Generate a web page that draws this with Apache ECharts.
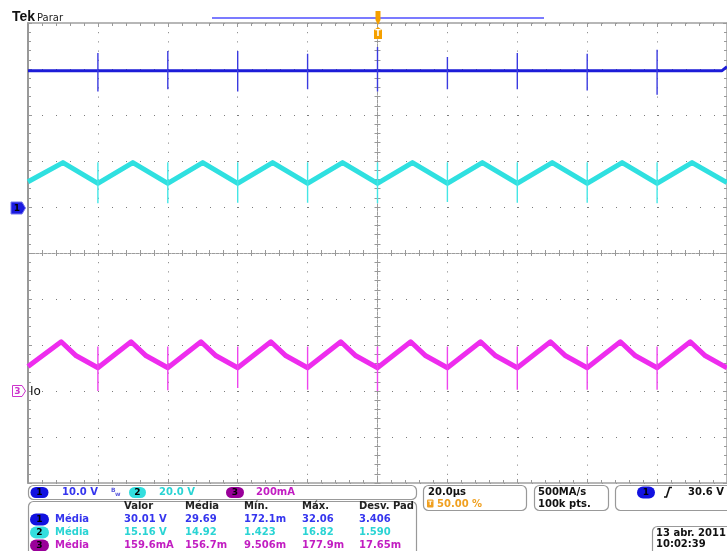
<!DOCTYPE html>
<html><head><meta charset="utf-8">
<script src="https://cdn.jsdelivr.net/npm/echarts@6/dist/echarts.min.js"></script>
<style>html,body{margin:0;padding:0;background:#fff;overflow:hidden}#c{width:727px;height:551px}</style>
</head><body><div id="c"></div>
<script>
// ---- data (time in µs, 20 µs/div) ----
const ch1TimesUs = [-100, 98.5, 100];
const ch1Volts = [29.6, 29.6, 30.5];
const ch2TimesUs = [-100,-90,-80,-70,-60,-50,-40,-30,-20,-10,0,10,20,30,40,50,60,70,80,90,100];
const ch2Volts = [11.0,19.3,10.3,19.3,10.3,19.3,10.3,19.3,10.3,19.3,10.3,19.3,10.3,19.3,10.3,19.3,10.3,19.3,10.3,19.3,10.6];
const ch3TimesUs = [-100,-90.5,-86.2,-80,-70.5,-66.2,-60,-50.5,-46.2,-40,-30.5,-26.2,-20,-10.5,-6.2,0,9.5,13.8,20,29.5,33.8,40,49.5,53.8,60,69.5,73.8,80,89.5,93.8,100];
const ch3mA = [106,214,153,101,214,153,101,214,153,101,214,153,101,214,153,101,214,153,101,214,153,101,214,153,101,214,153,101,214,153,101];
const spikeTimesUs = [-80,-60,-40,-20,0,20,40,60,80];
const ch1SpikeHighV = [33.5,33.9,33.9,33.3,34.8,32.6,33.5,33.3,34.2];
const ch1SpikeLowV = [25.1,25.6,25.1,25.6,25.1,25.6,25.6,25.3,24.4];
const ch2SpikeHighV = [19.5,19.5,19.5,19.5,19.5,19.5,19.5,19.5,19.5];
const ch2SpikeLowV = [1.6,1.6,1.8,1.8,1.6,2.2,1.8,1.8,1.6];
const ch3SpikeHighmA = [193,193,193,193,193,193,193,193,193];
const ch3SpikeLowmA = [0,3,13,5,0,5,5,5,5];
const statHeaders = ['Valor','Média','Mín.','Máx.','Desv. Pad'];
const ch1Stats = ['30.01 V','29.69','172.1m','32.06','3.406'];
const ch2Stats = ['15.16 V','14.92','1.423','16.82','1.590'];
const ch3Stats = ['159.6mA','156.7m','9.506m','177.9m','17.65m'];
const scaleLabels = ['10.0 V','20.0 V','200mA'];
const timebase = '20.0µs', triggerPos = '50.00 %', sampleRate = '500MA/s', recordLen = '100k pts.', trigLevel = '30.6 V';
const dateText = '13 abr. 2011', timeText = '10:02:39';

// ---- helpers ----
const zip = (xs, ys) => xs.map((x, i) => [x, ys[i]]);
function spikes(hi, lo) { const d = []; spikeTimesUs.forEach((t, i) => { d.push([t, hi[i]], [t, lo[i]], [t, null]); }); return d; }

const C1 = '#1c1cd8', C2 = '#2fe0e0', C3 = '#ee2cee';
const T1 = '#3535ee', T2 = '#2ad4d4', T3 = '#c21ec2';
const F = 'bold 10px "DejaVu Sans"';
const gridDot = '#7a7a7a', frame = '#a0a0a0';

const G = [];
function box(x, y, w, h) { G.push({type:'rect', shape:{x, y, width:w, height:h, r:5}, style:{fill:'#fff', stroke:'#999', lineWidth:1.2}, z:10}); }
function txt(x, y, s, color, font, align) { G.push({type:'text', x, y, style:{text:s, fill:color, font:font||F, align:align||'left', verticalAlign:'middle'}, z:12}); }
function pill(x, y, w, h, fill, label, lc) { G.push({type:'rect', shape:{x, y, width:w, height:h, r:h/2}, style:{fill}, z:11}); txt(x + w/2, y + h/2 + 0.5, label, lc || '#000', 'bold 9px "DejaVu Sans"', 'center'); }

// header
txt(12, 17.5, 'Tek', '#111', 'bold 14px "Liberation Sans"');
txt(37, 18.5, 'Parar', '#222', '10px "DejaVu Sans"');
G.push({type:'line', shape:{x1:212, y1:18, x2:544, y2:18}, style:{stroke:'#7b7bff', lineWidth:2}, z:10});
G.push({type:'polygon', shape:{points:[[375.5,11],[380.5,11],[380.5,20],[378,25],[375.5,20]]}, style:{fill:'#f5a000'}, z:11});
G.push({type:'polygon', shape:{points:[[374,30],[378,27],[382,30],[382,39],[374,39]]}, style:{fill:'#f5a000'}, z:11});
txt(378, 34, 'T', '#fff', 'bold 8px "DejaVu Sans"', 'center');

// channel markers
G.push({type:'polygon', shape:{points:[[11,202],[22,202],[25.5,208],[22,214],[11,214]]}, style:{fill:'#1a1ae0', stroke:'#7777ee', lineWidth:1}, z:11});
txt(17, 208.5, '1', '#000', 'bold 9px "DejaVu Sans"', 'center');
G.push({type:'polygon', shape:{points:[[12.5,385.5],[22,385.5],[25.5,391],[22,396.5],[12.5,396.5]]}, style:{fill:'#fff', stroke:'#cc33cc', lineWidth:1}, z:11});
txt(17.5, 391.5, '3', '#cc33cc', 'bold 9px "DejaVu Sans"', 'center');
txt(30, 391.5, 'Io', '#111', '12px "DejaVu Sans"');

// bottom panel
box(28.5, 485.5, 388, 14);
box(28.5, 501.5, 388, 60);
box(423.5, 485.5, 103, 25);
box(534.5, 485.5, 74, 25);
box(615.5, 485.5, 125, 25);
box(652.5, 526.5, 90, 32);

pill(30.5, 487, 18, 11, '#1212e0', '1');
txt(62, 492.5, scaleLabels[0], T1);
txt(111, 490, 'B', '#5a5add', 'bold 6px "DejaVu Sans"');
txt(115, 494, 'w', '#5a5add', 'bold 6px "DejaVu Sans"');
pill(129, 487, 17, 11, '#33dede', '2');
txt(159, 492.5, scaleLabels[1], T2);
pill(226, 487, 18, 11, '#990099', '3');
txt(256, 492.5, scaleLabels[2], T3);

const colX = [124, 185, 244, 302, 359];
statHeaders.forEach((h, i) => txt(colX[i], 506.5, h, '#222'));
[[ch1Stats, T1, '#1212e0', '1', 519.5], [ch2Stats, T2, '#33dede', '2', 532.5], [ch3Stats, T3, '#990099', '3', 545.5]].forEach(r => {
  pill(30, r[4] - 6, 19, 12, r[2], r[3]);
  txt(55, r[4], 'Média', r[1]);
  r[0].forEach((v, i) => txt(colX[i], r[4], v, r[1]));
});

txt(428, 492, timebase, '#111');
G.push({type:'rect', shape:{x:427, y:499.5, width:6.5, height:8, r:1}, style:{fill:'#f0a020'}, z:11});
txt(430.3, 503.8, 'T', '#fff', 'bold 6px "DejaVu Sans"', 'center');
txt(437, 504, triggerPos, '#f0a020');
txt(538, 492, sampleRate, '#111');
txt(538, 504.5, recordLen, '#111');
pill(637, 486.5, 18, 12, '#1212e0', '1');
G.push({type:'polyline', shape:{points:[[664,497],[666.5,497],[669.5,487.5],[672,487.5]]}, style:{stroke:'#111', lineWidth:1.6, fill:null}, z:12});
txt(688, 492.5, trigLevel, '#111');
txt(656, 533, dateText, '#111');
txt(656, 544.5, timeText, '#111');

// ---- axes ----
const noLabel = {show:false};
function xAx(extra) { return Object.assign({type:'value', min:-100, max:100, interval:20, axisLabel:noLabel, splitLine:{show:false}}, extra); }
function yAx(extra) { return Object.assign({type:'value', min:-5, max:5, interval:1, axisLabel:noLabel, splitLine:{show:false}}, extra); }
const tickStyle = {color:'#999', width:1};

const option = {
  animation:false,
  backgroundColor:'#fff',
  grid:{left:28, top:23, width:700, height:460, show:false},
  xAxis:[
    xAx({position:'bottom', axisLine:{onZero:true, onZeroAxisIndex:0, lineStyle:{color:'#9c9c9c', type:[3,1], width:1}},
      axisTick:{show:true, inside:true, length:3, lineStyle:tickStyle},
      minorTick:{show:true, splitNumber:5, length:3, lineStyle:tickStyle},
      splitLine:{show:true, lineStyle:{color:gridDot, type:[1,8.2], width:1}}}),
    xAx({position:'bottom', axisLine:{show:false, onZero:true, onZeroAxisIndex:0},
      axisTick:{show:true, inside:false, length:3, lineStyle:tickStyle},
      minorTick:{show:true, splitNumber:5, length:3, lineStyle:tickStyle}}),
    xAx({position:'top', axisLine:{show:true, onZero:false, lineStyle:{color:frame, width:1.5}},
      axisTick:{show:true, inside:true, length:4, lineStyle:tickStyle},
      minorTick:{show:true, splitNumber:5, length:3, lineStyle:tickStyle}}),
    xAx({position:'bottom', axisLine:{show:true, onZero:false, lineStyle:{color:frame, width:1.5}},
      axisTick:{show:true, inside:true, length:4, lineStyle:tickStyle},
      minorTick:{show:true, splitNumber:5, length:3, lineStyle:tickStyle}})
  ],
  yAxis:[
    yAx({position:'left', axisLine:{onZero:true, onZeroAxisIndex:0, lineStyle:{color:'#9c9c9c', type:[3,1], width:1}},
      axisTick:{show:true, inside:true, length:3, lineStyle:tickStyle},
      minorTick:{show:true, splitNumber:5, length:3, lineStyle:tickStyle},
      splitLine:{show:true, lineStyle:{color:gridDot, type:[1,13], width:1}}}),
    yAx({position:'left', axisLine:{show:false, onZero:true, onZeroAxisIndex:0},
      axisTick:{show:true, inside:false, length:3, lineStyle:tickStyle},
      minorTick:{show:true, splitNumber:5, length:3, lineStyle:tickStyle}}),
    yAx({position:'left', axisLine:{show:true, onZero:false, lineStyle:{color:'#999', width:2}},
      axisTick:{show:true, inside:true, length:4, lineStyle:tickStyle},
      minorTick:{show:true, splitNumber:5, length:3, lineStyle:tickStyle}}),
    yAx({position:'right', axisLine:{show:true, onZero:false, lineStyle:{color:frame, width:1.5}},
      axisTick:{show:true, inside:true, length:4, lineStyle:tickStyle},
      minorTick:{show:true, splitNumber:5, length:3, lineStyle:tickStyle}}),
    {type:'value', show:false, min:-60, max:40},
    {type:'value', show:false, min:-120, max:80},
    {type:'value', show:false, min:-400, max:1600}
  ],
  series:[
    {type:'line', xAxisIndex:0, yAxisIndex:4, data:zip(ch1TimesUs, ch1Volts), symbol:'none', silent:true, lineStyle:{color:C1, width:3}, z:5},
    {type:'line', xAxisIndex:0, yAxisIndex:4, data:spikes(ch1SpikeHighV, ch1SpikeLowV), symbol:'none', silent:true, lineStyle:{color:'#3a3ae0', width:1.4}, z:6},
    {type:'line', xAxisIndex:0, yAxisIndex:5, data:zip(ch2TimesUs, ch2Volts), symbol:'none', silent:true, lineStyle:{color:C2, width:5, join:'round'}, z:5},
    {type:'line', xAxisIndex:0, yAxisIndex:5, data:spikes(ch2SpikeHighV, ch2SpikeLowV), symbol:'none', silent:true, lineStyle:{color:'#44e6e6', width:1.4}, z:6},
    {type:'line', xAxisIndex:0, yAxisIndex:6, data:zip(ch3TimesUs, ch3mA), symbol:'none', silent:true, lineStyle:{color:C3, width:5, join:'round'}, z:5},
    {type:'line', xAxisIndex:0, yAxisIndex:6, data:spikes(ch3SpikeHighmA, ch3SpikeLowmA), symbol:'none', silent:true, lineStyle:{color:'#ee44ee', width:1.4}, z:6}
  ],
  graphic:G
};
const chart = echarts.init(document.getElementById('c'), null, {renderer:'canvas'});
chart.setOption(option);
</script></body></html>
